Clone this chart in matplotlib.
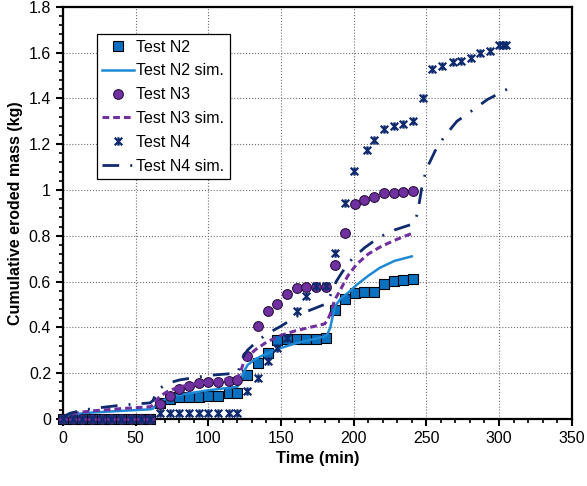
import matplotlib
matplotlib.use("Agg")
import matplotlib.pyplot as plt
from matplotlib.path import Path
from matplotlib.ticker import MultipleLocator, FuncFormatter

plt.rcParams['font.family'] = ['Liberation Sans', 'DejaVu Sans']

# %% data
t_test = [0, 7, 13, 20, 27, 33, 40, 47, 54, 60, 67, 74, 80, 87, 94, 100, 107, 114, 120,
          127, 134, 141, 147, 154, 161, 167, 174, 181, 187, 194, 201, 207, 214, 221, 228, 234, 241]
n2 = [0, 0, 0, 0, 0, 0, 0, 0, 0, 0, 0.07, 0.088, 0.096, 0.097, 0.097, 0.10, 0.10, 0.114, 0.114,
      0.19, 0.245, 0.29, 0.345, 0.35, 0.35, 0.35, 0.35, 0.355, 0.477, 0.525, 0.55, 0.555, 0.556,
      0.59, 0.604, 0.607, 0.61]
n3 = [0, 0, 0, 0, 0, 0, 0, 0, 0, 0, 0.066, 0.10, 0.13, 0.145, 0.157, 0.163, 0.163, 0.166, 0.168,
      0.277, 0.407, 0.47, 0.50, 0.546, 0.572, 0.575, 0.577, 0.578, 0.673, 0.813, 0.94, 0.957, 0.97,
      0.985, 0.988, 0.99, 0.995]

t_n4 = [0, 7, 13, 20, 27, 33, 40, 47, 54, 60, 67, 74, 80, 87, 94, 100, 107, 114, 120,
        127, 134, 141, 147, 154, 161, 167, 174, 181, 187, 194, 200, 209, 214, 221, 228, 234, 241,
        248, 254, 261, 268, 274, 281, 287, 294, 300, 303, 305]
n4 = [0, 0, 0, 0, 0, 0, 0, 0, 0, 0, 0.027, 0.027, 0.027, 0.027, 0.027, 0.027, 0.027, 0.027, 0.027,
      0.12, 0.18, 0.253, 0.31, 0.355, 0.47, 0.535, 0.58, 0.58, 0.726, 0.945, 1.085, 1.175, 1.22,
      1.265, 1.278, 1.29, 1.30, 1.40, 1.527, 1.54, 1.558, 1.562, 1.575, 1.60, 1.606, 1.632, 1.632, 1.632]

t_sim = [0, 2, 5, 10, 20, 40, 60, 62, 64, 67, 72, 80, 90, 100, 110, 120, 122, 124, 127, 132,
         140, 150, 160, 170, 180, 182, 184, 187, 191, 196, 202, 210, 218, 228, 240]
n2_sim = [0, 0.01, 0.017, 0.022, 0.028, 0.035, 0.042, 0.045, 0.06, 0.075, 0.09, 0.105, 0.115,
          0.125, 0.133, 0.14, 0.16, 0.2, 0.235, 0.26, 0.285, 0.31, 0.33, 0.345, 0.36, 0.37, 0.4,
          0.49, 0.525, 0.55, 0.585, 0.625, 0.66, 0.69, 0.71]
n3_sim = [0, 0.012, 0.02, 0.027, 0.035, 0.045, 0.053, 0.06, 0.08, 0.1, 0.12, 0.14, 0.152, 0.162,
          0.172, 0.18, 0.2, 0.24, 0.27, 0.3, 0.335, 0.365, 0.385, 0.4, 0.415, 0.43, 0.46, 0.52,
          0.565, 0.625, 0.675, 0.72, 0.75, 0.78, 0.81]

t_n4_sim = [0, 2, 5, 10, 20, 40, 60, 62, 64, 67, 72, 80, 90, 100, 110, 120, 122, 124, 127, 132,
            140, 150, 160, 170, 180, 182, 184, 188, 192, 199, 208, 218, 228, 240, 242, 244, 247,
            250, 256, 262, 271, 280, 292, 307]
n4_sim = [0, 0.015, 0.025, 0.033, 0.045, 0.06, 0.07, 0.08, 0.11, 0.135, 0.155, 0.17, 0.18, 0.19,
          0.195, 0.2, 0.23, 0.27, 0.3, 0.33, 0.37, 0.405, 0.445, 0.475, 0.5, 0.515, 0.54, 0.6,
          0.64, 0.7, 0.75, 0.795, 0.825, 0.85, 0.86, 0.9, 1.015, 1.09, 1.17, 1.23, 1.30, 1.34,
          1.395, 1.445]

# %% plot
BLUE = '#0a70c0'
LBLUE = '#1e8ad6'
PURPLE = '#7030a0'
NAVY = '#0f2b6e'

star = Path([(-1, -1), (1, 1), (-1, 1), (1, -1), (0, -1.1), (0, 1.1)],
            [Path.MOVETO, Path.LINETO, Path.MOVETO, Path.LINETO, Path.MOVETO, Path.LINETO])

fig = plt.figure(figsize=(5.87, 4.86), dpi=100)
ax = fig.add_axes([0.107, 0.138, 0.867, 0.848])

ax.plot(t_test, n2, ls='none', marker='s', ms=6.5, mfc=BLUE, mec='black', mew=0.8,
        label='Test N2', clip_on=False, zorder=3)
ax.plot(t_sim, n2_sim, color=LBLUE, lw=1.8, label='Test N2 sim.', zorder=3)
ax.plot(t_test, n3, ls='none', marker='o', ms=7, mfc=PURPLE, mec='#2a1040', mew=0.8,
        label='Test N3', clip_on=False, zorder=3)
ax.plot(t_sim, n3_sim, color=PURPLE, lw=2.2, ls=(0, (2.2, 1.3)), label='Test N3 sim.', zorder=3)
ax.plot(t_n4, n4, ls='none', marker=star, ms=6, mfc='none', mec=NAVY, mew=1.6,
        label='Test N4', clip_on=False, zorder=3)
ax.plot(t_n4_sim, n4_sim, color=NAVY, lw=2, ls=(0, (6, 4, 0.7, 4)), label='Test N4 sim.', zorder=3)

ax.set_xlim(0, 350)
ax.set_ylim(0, 1.8)
ax.xaxis.set_major_locator(MultipleLocator(50))
ax.xaxis.set_minor_locator(MultipleLocator(10))
ax.yaxis.set_major_locator(MultipleLocator(0.2))
ax.yaxis.set_minor_locator(MultipleLocator(0.04))
ax.yaxis.set_major_formatter(FuncFormatter(lambda v, p: '%g' % round(v, 2)))
ax.tick_params(which='major', direction='out', length=5, width=1.5, labelsize=11.5)
ax.tick_params(which='minor', direction='out', length=3, width=1.2)
ax.grid(True, which='major', ls=':', color='#707070', lw=0.8)
for s in ax.spines.values():
    s.set_linewidth(1.6)

ax.set_xlabel('Time (min)', fontsize=12, fontweight='bold')
ax.set_ylabel('Cumulative eroded mass (kg)', fontsize=11.5, fontweight='bold')

leg = ax.legend(loc='upper left', bbox_to_anchor=(0.067, 0.934), borderaxespad=0, fontsize=11.5,
                fancybox=False, framealpha=1, edgecolor='black', handlelength=2.0,
                handletextpad=0.1, labelspacing=0.55, borderpad=0.35)
leg.get_frame().set_linewidth(0.9)

plt.savefig('out.png', dpi=100)
